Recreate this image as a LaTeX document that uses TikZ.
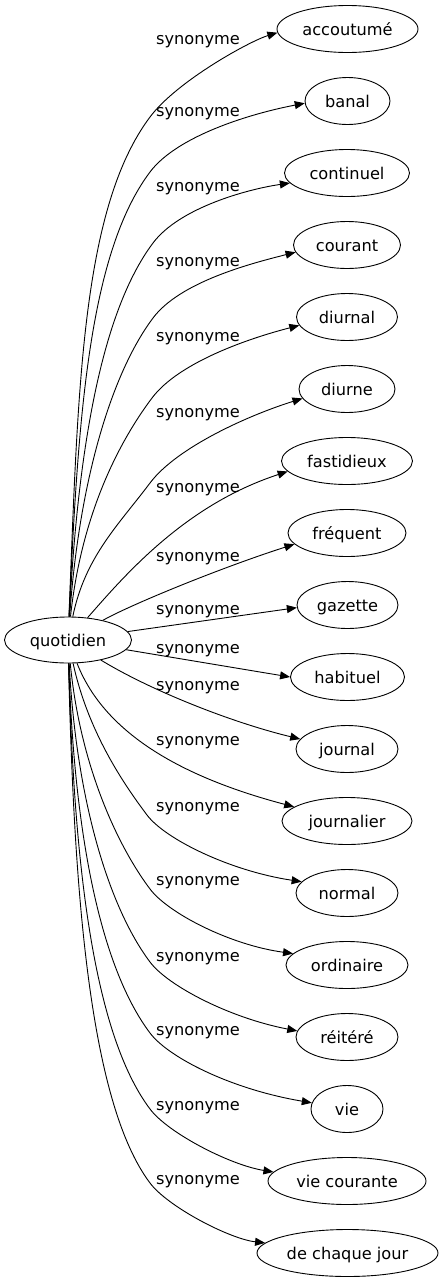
\documentclass[tikz,border=0pt]{standalone}
\usepackage{fontspec}
\setmainfont{DejaVu Sans}
\usetikzlibrary{arrows.meta,calc,shapes.geometric}
% upper edge: #1 target, #2 Wx, #3 Wy, #4 anchor angle, #5 label y, #6 k, #7 C1x
\newcommand\upE[7]{%
  \draw[edge] (q) .. controls (#7,{617-0.45*(617-#3)}) and ({#2-0.6*#6},{#3+0.8*#6}) .. (#2,#3)
    .. controls ({#2+27},{#3-36}) and (250,{#5+2}) .. (#1.#4);
}
% lower edge: #1 target, #2 Wx, #3 Wy, #4 anchor angle, #5 C1x, #6 k
\newcommand\loE[6]{%
  \draw[edge] (q) .. controls (#5,{663+0.45*(#3-663)}) and ({#2-0.6*#6},{#3-0.8*#6}) .. (#2,#3)
    .. controls ({#2+18},{#3+24}) and (230,{#3+56}) .. (#1.#4);
}
\begin{document}
\begin{tikzpicture}[x=1pt,y=-1pt,
  every node/.style={font=\fontsize{16.2}{19}\selectfont},
  word/.style={ellipse, draw, line width=0.9pt, inner sep=0pt, minimum height=47pt,
    text height=12pt, text depth=0pt},
  lab/.style={anchor=base, inner sep=0pt},
  edge/.style={draw, line width=0.9pt, -{Triangle[length=10pt,width=8pt]}}]
\useasboundingbox (0,0) rectangle (443,1283);

\node[word, minimum width=127pt, minimum height=46pt] (q) at (68,640) {quotidien};

\node[word, minimum width=141pt] (t1)  at (347.5,29)   {accoutumé};
\node[word, minimum width=85pt]  (t2)  at (347.5,101)  {banal};
\node[word, minimum width=125pt] (t3)  at (347,173)    {continuel};
\node[word, minimum width=107pt] (t4)  at (347,245)    {courant};
\node[word, minimum width=101pt] (t5)  at (347,317)    {diurnal};
\node[word, minimum width=96pt]  (t6)  at (347,389)    {diurne};
\node[word, minimum width=131pt] (t7)  at (347,461)    {fastidieux};
\node[word, minimum width=118pt] (t8)  at (347,533)    {fréquent};
\node[word, minimum width=101pt] (t9)  at (347.5,605)  {gazette};
\node[word, minimum width=114pt] (t10) at (347.5,677)  {habituel};
\node[word, minimum width=102pt] (t11) at (347,749)    {journal};
\node[word, minimum width=130pt] (t12) at (347,821)    {journalier};
\node[word, minimum width=102pt] (t13) at (347,893)    {normal};
\node[word, minimum width=122pt] (t14) at (347,965)    {ordinaire};
\node[word, minimum width=102pt] (t15) at (347,1037)   {réitéré};
\node[word, minimum width=72pt]  (t16) at (347,1109)   {vie};
\node[word, minimum width=158pt] (t17) at (347,1181)   {vie courante};
\node[word, minimum width=181pt] (t18) at (347.5,1253) {de chaque jour};

\node[lab] (l1)  at (198,44)    {synonyme};
\node[lab] (l2)  at (198,116.7) {synonyme};
\node[lab] (l3)  at (198,191.7) {synonyme};
\node[lab] (l4)  at (198,266.7) {synonyme};
\node[lab] (l5)  at (198,341)   {synonyme};
\node[lab] (l6)  at (198,417.7) {synonyme};
\node[lab] (l7)  at (198,492)   {synonyme};
\node[lab] (l8)  at (198,561)   {synonyme};
\node[lab] (l9)  at (198,614)   {synonyme};
\node[lab] (l10) at (198,653)   {synonyme};
\node[lab] (l11) at (198,690)   {synonyme};
\node[lab] (l12) at (198,745)   {synonyme};
\node[lab] (l13) at (198,811.7) {synonyme};
\node[lab] (l14) at (198,885.7) {synonyme};
\node[lab] (l15) at (198,961)   {synonyme};
\node[lab] (l16) at (198,1035)  {synonyme};
\node[lab] (l17) at (198,1110)  {synonyme};
\node[lab] (l18) at (198,1184)  {synonyme};

\upE{t1}{150}{117}{183}{39}{115}{78}
\upE{t2}{150}{172}{183}{111.7}{102}{78}
\upE{t3}{153}{243}{190}{186.7}{86}{78}
\upE{t4}{153}{318}{188}{261.7}{70}{79}
\upE{t5}{152}{398}{190}{336}{60}{81}
\upE{t6}{150}{483}{192}{412.7}{52}{85}
\draw[edge] (q) .. controls (125,575) and (185,505) .. (t7.190);
\draw[edge] (q) .. controls (130,605) and (220,568) .. (t8.192);
\draw[edge] (q) -- (t9.183);
\draw[edge] (q) -- (t10.180);
\draw[edge] (q) .. controls (150,690) and (230,722) .. (t11.168);
\draw[edge] (q) .. controls (105,735) and (185,778) .. (t12.165);
\loE{t13}{147}{815}{166}{88}{40}
\loE{t14}{150}{889}{168}{80}{55}
\loE{t15}{150}{962}{173}{76}{70}
\loE{t16}{150}{1033}{170}{74}{85}
\loE{t17}{150}{1109}{173}{74}{95}
\loE{t18}{150}{1183}{173}{74}{100}
\end{tikzpicture}
\end{document}
